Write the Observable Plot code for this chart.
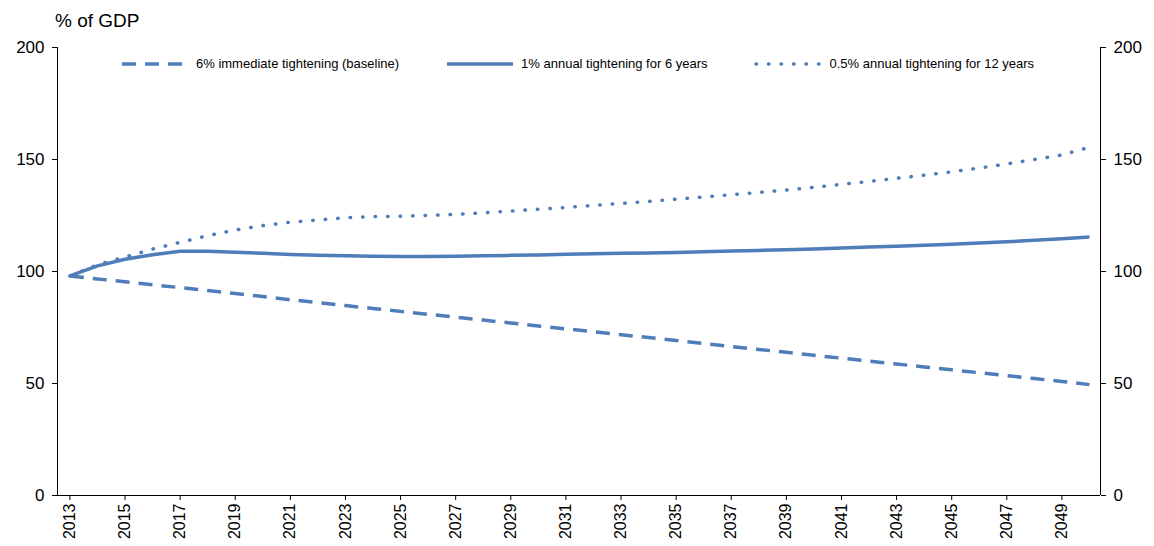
<!DOCTYPE html>
<html>
<head>
<meta charset="utf-8">
<script src="https://cdn.jsdelivr.net/npm/d3@7"></script>
<script src="https://cdn.jsdelivr.net/npm/@observablehq/plot@0.6"></script>
<style>
  body { margin: 0; background: #fff; font-family: "Liberation Sans", Arial, sans-serif; }
  #wrap { position: relative; width: 1154px; height: 546px; }
  #unit { position: absolute; left: 55px; top: 10px; font-size: 19px; }
  #legend { position: absolute; top: 56px; left: 120px; font-size: 13px; display: flex; }
  #legend div { display: flex; align-items: center; margin-right: 46px; }
  #legend svg { margin-right: 6px; }
</style>
</head>
<body>
<div id="wrap">
  <div id="unit">% of GDP</div>
  <div id="legend"></div>
</div>
<script>
const years = d3.range(2013, 2051);
const baseline = [98, 96.7, 95.4, 94.1, 92.8, 91.5, 90.2, 88.8, 87.4, 86.1, 84.8, 83.5, 82.2, 80.9,
  79.6, 78.3, 77, 75.7, 74.4, 73.1, 71.8, 70.5, 69.2, 67.9, 66.5, 65.2, 63.9, 62.6, 61.3, 60, 58.7,
  57.4, 56.1, 54.8, 53.5, 52.2, 50.9, 49.5];
const sixYears = [98, 102.5, 105.5, 107.5, 109, 109, 108.6, 108.1, 107.6, 107.3, 107, 106.8, 106.7,
  106.7, 106.8, 107, 107.2, 107.4, 107.7, 107.9, 108.1, 108.3, 108.5, 108.8, 109.1, 109.4, 109.7,
  110.1, 110.5, 110.9, 111.3, 111.7, 112.2, 112.7, 113.3, 113.9, 114.6, 115.4];
const twelveYears = [98, 103, 106.5, 110, 113, 116, 118.5, 120.5, 122, 123, 124, 124.5, 124.7, 125,
  125.5, 126.2, 127, 127.8, 128.6, 129.5, 130.4, 131.3, 132.3, 133.3, 134.3, 135.3, 136.4, 137.6,
  138.9, 140.2, 141.6, 143, 144.5, 146.2, 148, 150, 152, 155.5];
const seriesNames = ["6% immediate tightening (baseline)", "1% annual tightening for 6 years", "0.5% annual tightening for 12 years"];
const dashes = ["14,9", null, "0.5,12"];
const xDomain = [2012.55, 2050.4];

const color = "#4f7dba";
const rows = [baseline, sixYears, twelveYears].flatMap((vals, i) =>
  vals.map((v, j) => ({year: years[j], value: v, series: seriesNames[i]})));

const plot = Plot.plot({
  width: 1154, height: 546,
  marginTop: 47, marginBottom: 51, marginLeft: 57, marginRight: 54,
  style: {fontFamily: "Liberation Sans, Arial, sans-serif", fontSize: "17px", color: "#000"},
  x: {domain: xDomain},
  y: {domain: [0, 200]},
  marks: [
    Plot.axisY({ticks: [0, 50, 100, 150, 200], tickSize: 5, tickPadding: 8, label: null, fontSize: 17}),
    Plot.axisY({anchor: "right", ticks: [0, 50, 100, 150, 200], tickSize: 5, tickPadding: 8, label: null, fontSize: 17}),
    Plot.axisX({ticks: d3.range(2013, 2051, 2), tickFormat: "d", tickRotate: -90, tickSize: 5, tickPadding: 3, label: null, fontSize: 16}),
    Plot.ruleY([0]),
    Plot.ruleX(xDomain),
    ...seriesNames.map((s, i) => Plot.line(rows.filter(d => d.series === s), {
      x: "year", y: "value", stroke: color, strokeWidth: 3.5,
      strokeDasharray: dashes[i], strokeLinecap: i === 2 ? "round" : "butt"
    }))
  ]
});
document.getElementById("wrap").prepend(plot);

const legend = document.getElementById("legend");
seriesNames.forEach((s, i) => {
  const item = document.createElement("div");
  item.innerHTML = `<svg width="70" height="8"><line x1="2" x2="68" y1="4" y2="4" stroke="${color}" stroke-width="3.5" ${dashes[i] ? `stroke-dasharray="${dashes[i]}"` : ""} stroke-linecap="${i === 2 ? "round" : "butt"}"/></svg>${s}`;
  legend.appendChild(item);
});
</script>
</body>
</html>
